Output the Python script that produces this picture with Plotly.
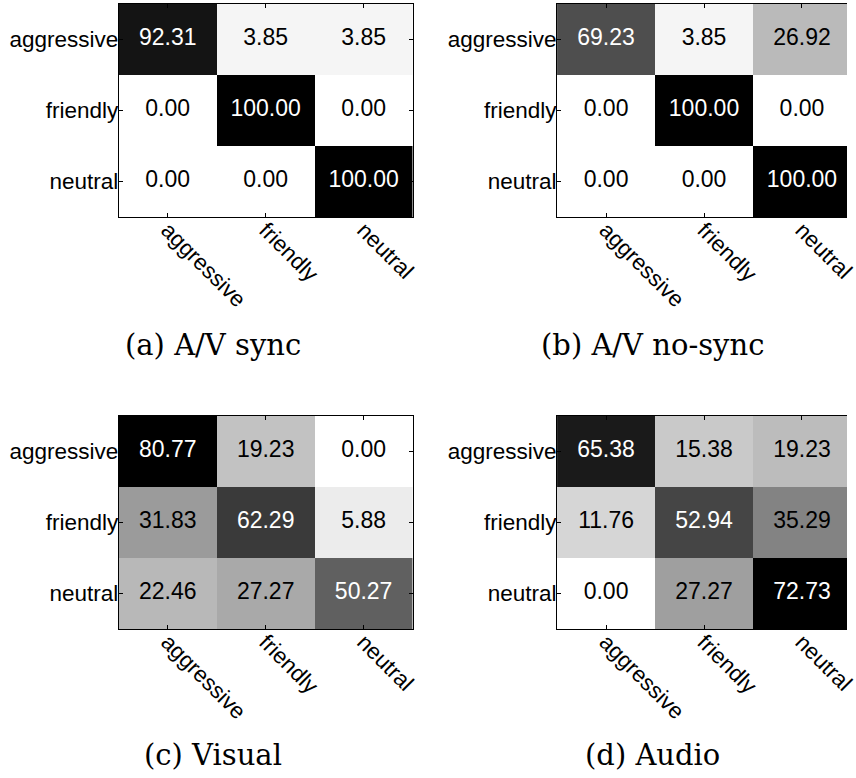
import plotly.graph_objects as go

# ---- data ----
classes = ["aggressive", "friendly", "neutral"]
captions = ["(a) A/V sync", "(b) A/V no-sync", "(c) Visual", "(d) Audio"]
av_sync = [[92.31, 3.85, 3.85],
           [0.00, 100.00, 0.00],
           [0.00, 0.00, 100.00]]
av_nosync = [[69.23, 3.85, 26.92],
             [0.00, 100.00, 0.00],
             [0.00, 0.00, 100.00]]
visual = [[80.77, 19.23, 0.00],
          [31.83, 62.29, 5.88],
          [22.46, 27.27, 50.27]]
audio = [[65.38, 15.38, 19.23],
         [11.76, 52.94, 35.29],
         [0.00, 27.27, 72.73]]
matrices = [av_sync, av_nosync, visual, audio]

W, H = 856, 778
# panel boxes in pixels: (left, right, top, bottom)
boxes = [(120, 417, 4, 217), (563, 860, 4, 217),
         (120, 417, 416, 629), (563, 860, 416, 629)]
cap_pos = [(215, 345), (659, 345), (215, 755), (659, 755)]

fig = go.Figure()
sans = "Liberation Sans, Arial, sans-serif"
tick_font = dict(family=sans, size=22.5, color="black")

for i, (mat, box) in enumerate(zip(matrices, boxes)):
    n = i + 1
    xa = "x" if n == 1 else f"x{n}"
    ya = "y" if n == 1 else f"y{n}"
    zmax = max(max(r) for r in mat)
    fig.add_trace(go.Heatmap(
        z=mat, x=classes, y=classes,
        zmin=0, zmax=zmax,
        colorscale=[[0, "#ffffff"], [1, "#000000"]],
        showscale=False, hoverinfo="skip",
        xaxis=xa, yaxis=ya,
    ))
    # cell value labels
    xs, ys, txt, cols = [], [], [], []
    for r, row_name in enumerate(classes):
        for c, col_name in enumerate(classes):
            v = mat[r][c]
            xs.append(col_name)
            ys.append(row_name)
            txt.append(f"{v:.2f}")
            cols.append("white" if v / zmax > 0.5 else "black")
    fig.add_trace(go.Scatter(
        x=xs, y=ys, text=txt, mode="text",
        textfont=dict(family=sans, size=23, color=cols),
        hoverinfo="skip", xaxis=xa, yaxis=ya,
    ))
    left, right, top, bottom = box
    clipped = right > W
    dom_r = min(right, W)
    cell = (right - left) / 3.0
    xr = [-0.5, 2.5 - (right - dom_r) / cell]
    xkey = "xaxis" if n == 1 else f"xaxis{n}"
    ykey = "yaxis" if n == 1 else f"yaxis{n}"
    fig.layout[xkey] = dict(
        domain=[left / W, dom_r / W], anchor=ya, range=xr,
        type="category", categoryorder="array", categoryarray=classes,
        showline=True, linecolor="black", linewidth=1,
        mirror="allticks",
        ticks="inside", ticklen=4, tickcolor="black",
        tickangle=45, tickfont=tick_font, showgrid=False, zeroline=False,
        ticklabelstandoff=-10,
        fixedrange=True,
    )
    fig.layout[ykey] = dict(
        domain=[1 - bottom / H, 1 - top / H], anchor=xa,
        range=[2.5, -0.5],
        type="category", categoryorder="array", categoryarray=classes,
        showline=True, linecolor="black", linewidth=1,
        mirror=(False if clipped else "allticks"),
        ticks="inside", ticklen=4, tickcolor="black",
        tickfont=tick_font, showgrid=False, zeroline=False,
        ticklabelstandoff=-5,
        fixedrange=True,
    )

for cap, (cx, cy) in zip(captions, cap_pos):
    fig.add_annotation(
        text=cap, x=cx / W, y=1 - cy / H, xref="paper", yref="paper",
        xanchor="center", yanchor="middle", showarrow=False,
        font=dict(family="DejaVu Serif, serif", size=29, color="black"),
    )

fig.update_layout(
    width=W, height=H, margin=dict(l=0, r=0, t=0, b=0),
    paper_bgcolor="white", plot_bgcolor="white", showlegend=False,
)

fig.write_html("out.html")
